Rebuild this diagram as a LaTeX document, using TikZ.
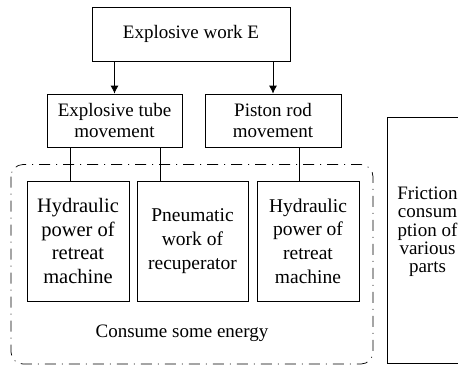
\documentclass[tikz,border=0pt]{standalone}
\usepackage{fontspec}
\setmainfont{Liberation Serif}
\newfontfamily\tnr{Liberation Serif}
\usetikzlibrary{arrows.meta}
\begin{document}
\begin{tikzpicture}[x=1pt,y=-1pt,
  box/.style={draw,line width=0.8pt,inner sep=0pt,align=center},
  big/.style={font=\tnr\fontsize{20.5}{23.7}\selectfont},
  bigb/.style={font=\tnr\fontsize{19.5}{23.7}\selectfont},
  mid/.style={font=\tnr\fontsize{19}{21.7}\selectfont},
  tight/.style={font=\tnr\fontsize{19}{18.3}\selectfont},
  arr/.style={line width=0.8pt,-{Latex[length=8pt,width=8pt]}},
  conn/.style={line width=0.8pt},
  dashdot box/.style={line width=0.7pt,rounded corners=12pt,dash pattern=on 11pt off 6pt on 1pt off 6pt}]
\clip (0,0) rectangle (458,365);
\node[box,mid,minimum width=198pt,minimum height=54pt] (top) at (191,34) {Explosive work E};
\node[box,mid,minimum width=135pt,minimum height=53pt] (tube) at (114.5,120.5) {Explosive tube\\movement};
\node[box,mid,minimum width=136pt,minimum height=53pt] (piston) at (273,120.5) {Piston rod\\movement};
\node[box,big,minimum width=102pt,minimum height=120pt] (h1) at (78,241) {Hydraulic\\power of\\retreat\\machine};
\node[box,bigb,minimum width=111pt,minimum height=120pt] (pn) at (192.5,241) {Pneumatic\\work of\\recuperator};
\node[box,bigb,minimum width=102pt,minimum height=120pt] (h2) at (308,241) {Hydraulic\\power of\\retreat\\machine};
\node[mid] (consume) at (182,333) {Consume some energy};
\draw[dashdot box] (11,164.5) rectangle (373,364);
\draw[line width=0.8pt] (387,117) rectangle (470,363);
\node[tight,align=center,inner sep=0pt] (friction) at (427.5,232) {Friction\\consum\\ption of\\various\\parts};
\draw[arr] (top.south -| tube.north) -- (tube.north);
\draw[arr] (top.south -| piston.north) -- (piston.north);
\coordinate (c1) at (70,0);
\coordinate (c2) at (160,0);
\coordinate (c3) at (299,0);
\draw[conn] (tube.south -| c1) -- (h1.north -| c1);
\draw[conn] (tube.south -| c2) -- (pn.north -| c2);
\draw[conn] (piston.south -| c3) -- (h2.north -| c3);
\end{tikzpicture}
\end{document}
